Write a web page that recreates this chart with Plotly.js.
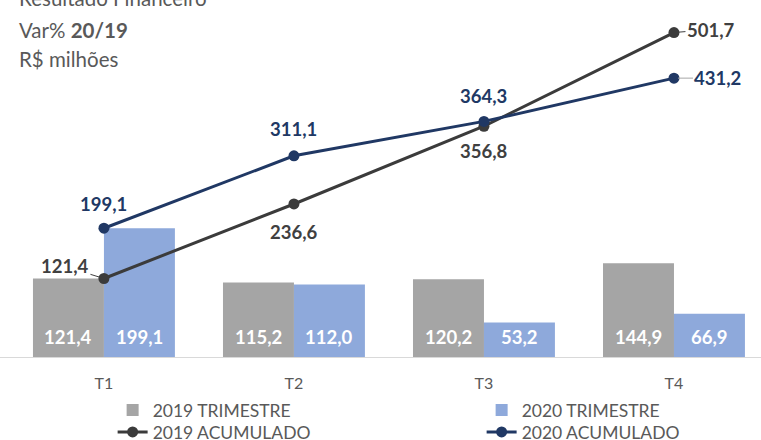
<!DOCTYPE html>
<html>
<head>
<meta charset="utf-8">
<script src="https://cdn.plot.ly/plotly-3.0.1.min.js"></script>
<style>html,body{margin:0;padding:0;background:#fff;}#chart{width:761px;height:440px;}</style>
</head>
<body>
<div id="chart"></div>
<script>
var categories = ['T1', 'T2', 'T3', 'T4'];
var trimestre2019 = [121.4, 115.2, 120.2, 144.9];
var trimestre2020 = [199.1, 112.0, 53.2, 66.9];
var acumulado2019 = [121.4, 236.6, 356.8, 501.7];
var acumulado2020 = [199.1, 311.1, 364.3, 431.2];
var seriesNames = ['2019 TRIMESTRE', '2020 TRIMESTRE', '2019 ACUMULADO', '2020 ACUMULADO'];

function fmt(v) { return v.toFixed(1).replace('.', ','); }

var C_BAR19 = '#A5A5A5', C_BAR20 = '#8EA9DB', C_L19 = '#3B3B3B', C_L20 = '#203864';
var FONT = 'Lato, "Noto Sans", sans-serif';
var LBL = 18.5;

var traces = [
  {
    type: 'bar', name: seriesNames[0], x: categories, y: trimestre2019,
    marker: {color: C_BAR19}, legend: 'legend', hoverinfo: 'skip'
  },
  {
    type: 'bar', name: seriesNames[1], x: categories, y: trimestre2020,
    marker: {color: C_BAR20}, legend: 'legend', hoverinfo: 'skip'
  },
  {
    type: 'scatter', mode: 'lines+markers', name: seriesNames[2], x: categories, y: acumulado2019,
    line: {color: C_L19, width: 3}, marker: {color: C_L19, size: 11}, legend: 'legend2', hoverinfo: 'skip'
  },
  {
    type: 'scatter', mode: 'lines+markers', name: seriesNames[3], x: categories, y: acumulado2020,
    line: {color: C_L20, width: 3}, marker: {color: C_L20, size: 11}, legend: 'legend2', hoverinfo: 'skip'
  }
];

var annotations = [];
// bar value labels (white, at the foot of each bar)
var BAR_HALF = 35.5;
[[trimestre2019, -BAR_HALF], [trimestre2020, BAR_HALF]].forEach(function (s) {
  s[0].forEach(function (v, i) {
    annotations.push({
      x: categories[i], y: 0, yanchor: 'middle', yshift: 20, xshift: s[1], showarrow: false,
      text: '<b>' + fmt(v) + '</b>', font: {color: '#FFFFFF', size: LBL, family: FONT}
    });
  });
});
// 2020 acumulado labels
var off20 = [[0, 24, false], [0, 27, false], [0, 25, false], [44, 0, true]];
acumulado2020.forEach(function (v, i) {
  var o = off20[i];
  var a = {x: categories[i], y: v, text: '<b>' + fmt(v) + '</b>', font: {color: C_L20, size: LBL, family: FONT}};
  if (o[2]) { a.showarrow = true; a.ax = o[0]; a.ay = -o[1]; a.arrowhead = 0; a.arrowwidth = 1; a.arrowcolor = '#A6A6A6'; a.standoff = 4; }
  else { a.showarrow = false; a.xshift = o[0]; a.yshift = o[1]; }
  annotations.push(a);
});
// 2019 acumulado labels
var off19 = [[-39, 12, true], [0, -28, false], [0, -25, false], [37, 3, true]];
acumulado2019.forEach(function (v, i) {
  var o = off19[i];
  var a = {x: categories[i], y: v, text: '<b>' + fmt(v) + '</b>', font: {color: '#404040', size: LBL, family: FONT}};
  if (o[2]) { a.showarrow = true; a.ax = o[0]; a.ay = -o[1]; a.arrowhead = 0; a.arrowwidth = 1; a.arrowcolor = '#404040'; a.standoff = 4; }
  else { a.showarrow = false; a.xshift = o[0]; a.yshift = o[1]; }
  annotations.push(a);
});
// Title block
var titleLines = ['Resultado Financeiro', 'Var% <b>20/19</b>', 'R$ milhões'];
var titleY = [-2, 30, 59];
titleLines.forEach(function (t, i) {
  annotations.push({
    xref: 'paper', yref: 'paper', x: 0, xshift: 17, y: 1 - titleY[i] / 357, xanchor: 'left', yanchor: 'middle',
    text: t, showarrow: false, font: {color: '#595959', size: 20.5, family: FONT}
  });
});

var legendBase = {
  orientation: 'h', xref: 'container', yref: 'container',
  x: 0.148, xanchor: 'left', yanchor: 'middle',
  entrywidth: 324, entrywidthmode: 'pixels', traceorder: 'normal',
  font: {size: 17.5, color: '#595959', family: FONT}, itemclick: false, itemdoubleclick: false,
  tracegroupgap: 0, bgcolor: 'rgba(0,0,0,0)'
};
var legend1 = Object.assign({}, legendBase, {y: 1 - 410 / 440});
var legend2 = Object.assign({}, legendBase, {y: 1 - 432 / 440});

var layout = {
  width: 761, height: 440,
  margin: {l: 0, r: 0, t: 0, b: 83},
  paper_bgcolor: '#FFFFFF', plot_bgcolor: '#FFFFFF',
  barmode: 'group', bargap: 0.253, bargroupgap: 0,
  font: {family: FONT, color: '#595959'},
  xaxis: {
    type: 'category', range: [-0.547, 3.458], showline: true, linecolor: '#D9D9D9', linewidth: 1,
    showgrid: false, zeroline: false, ticks: '', tickfont: {size: 16, color: '#595959', family: FONT},
    ticklabelstandoff: 12, fixedrange: true
  },
  yaxis: {range: [0, 552], visible: false, showgrid: false, zeroline: false, fixedrange: true},
  showlegend: true,
  legend: legend1,
  legend2: legend2,
  annotations: annotations
};

Plotly.newPlot('chart', traces, layout, {displayModeBar: false, staticPlot: true});
</script>
</body>
</html>
